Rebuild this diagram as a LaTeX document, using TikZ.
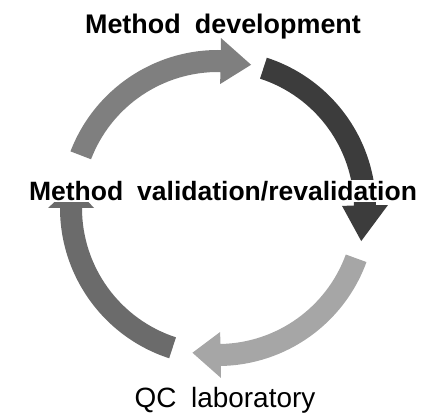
\documentclass[tikz,border=0pt]{standalone}
\usepackage{fontspec}
\setmainfont{Liberation Sans}

\definecolor{arrmid}{HTML}{7F7F7F}
\definecolor{arrdark}{HTML}{3C3C3C}
\definecolor{arrlight}{HTML}{A6A6A6}
\definecolor{arrleft}{HTML}{6B6B6B}

% curved arrow on the ring: start angle, head base angle, tip angle, colour
\newcommand{\ringarrow}[4]{%
  \fill[#4] (#1:158) arc[start angle=#1, end angle=#2, radius=158]
    -- (#2:170) -- (#3:147) -- (#2:124) -- (#2:136)
    arc[start angle=#2, end angle=#1, radius=136] -- cycle;}

\begin{document}
\begin{tikzpicture}[x=1bp, y=1bp]
    \useasboundingbox (0,0) rectangle (428,414);
    \begin{scope}[shift={(218,206)}]
        \ringarrow{159}{89}{77}{arrmid}
        \ringarrow{72}{1}{-13}{arrdark}
        \ringarrow{-20}{-89}{-100}{arrlight}
        \ringarrow{-108}{-180}{-189}{arrleft}
    \end{scope}
    \node[anchor=base, font=\bfseries\fontsize{27}{30}\selectfont] (dev) at (223,381) {Method\hspace{0.25em} development};
    \node[anchor=base, fill=white, inner sep=1bp, font=\bfseries\fontsize{26.6}{30}\selectfont] (val) at (223,214) {Method\hspace{0.25em} validation/revalidation};
    \node[anchor=base, font=\fontsize{28}{30}\selectfont] (qc) at (225,7) {QC\hspace{0.25em} laboratory};
\end{tikzpicture}
\end{document}
